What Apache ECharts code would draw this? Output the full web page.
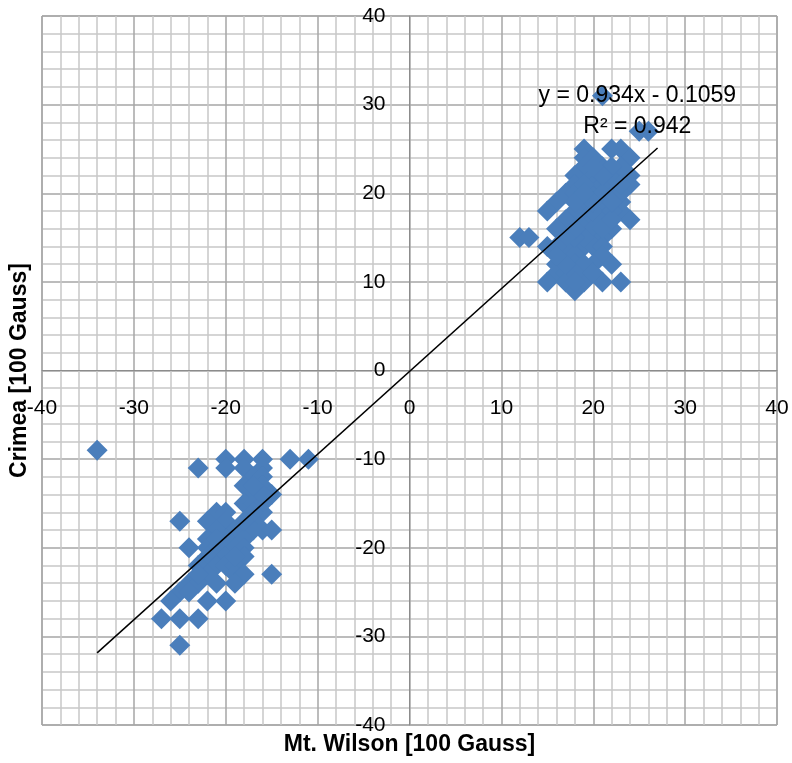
<!DOCTYPE html>
<html>
<head>
<meta charset="utf-8">
<script src="https://cdn.jsdelivr.net/npm/echarts@6/dist/echarts.min.js"></script>
<style>html,body{margin:0;padding:0;background:#fff;}#chart{width:792px;height:763px;}</style>
</head>
<body>
<div id="chart"></div>
<script>
// Mt. Wilson (x) vs Crimea (y), in units of 100 Gauss
const mtWilson = [
  // lower cluster
  -34,-20,-18,-16,-13,-11,-23,-20,-18,-16,-17,-16,-18,-16,-17,-15,-18,-17,-16,-16,
  -21,-20,-25,-22,-20,-17,-21,-19,-17,-16,-15,-22,-20,-18,-24,-22,-21,-19,-18,-20,
  -18,-22,-21,-20,-23,-19,-22,-19,-18,-15,-24,-23,-21,-25,-24,-26,-22,-20,-27,-25,
  -23,-25,-17,-16,-19,-18,-17,-23,-21,-19,
  // upper cluster
  21,25,26,19,22,23,24,19,19,21,20,18,18,17,20,22,19,21,23,23,
  22,24,16,15,18,19,20,17,21,24,16,19,20,22,21,12,13,15,19,17,
  20,21,18,21,16,18,22,19,16,17,15,17,19,21,23,18,20,18,20,21,
  22,23,20,22,21,19,18,20,19,23,21,19,20,22,18,17,16,18,20,18,
  17,22,21,24,23,22,18,19,20,16
];
const crimea = [
  // lower cluster
  -9,-10,-10,-10,-10,-10,-11,-11,-11,-11,-12,-12,-13,-13,-14,-14,-15,-15,-15,-16,
  -16,-16,-17,-17,-17,-17,-18,-18,-18,-18,-18,-19,-19,-19,-20,-20,-20,-20,-20,-21,
  -21,-21,-22,-22,-22,-22,-23,-23,-23,-23,-24,-24,-24,-25,-25,-26,-26,-26,-28,-28,
  -28,-31,-16,-14,-21,-17,-13,-23,-19,-24,
  // upper cluster
  31,27,27,25,25,25,24,24,23,23,22,22,21,20,20,20,19,19,19,18,
  21,21,19,18,18,17,17,17,17,17,16,16,16,16,15,15,15,14,14,14,
  14,14,13,13,12,12,12,11,11,11,10,10,10,10,10,9,18,20,21,21,
  22,23,24,18,16,15,15,12,12,20,20,21,19,17,16,15,14,11,11,10,
  12,23,22,22,21,19,19,20,23,13
];
const trendSlope = 0.934;
const trendIntercept = -0.1059;
const trendXRange = [-34, 27];
const xTicks = [-40, -30, -20, -10, 0, 10, 20, 30, 40];
const yTicks = [-40, -30, -20, -10, 0, 10, 20, 30, 40];
const eqText = 'y = 0.934x - 0.1059';
const r2Text = 'R² = 0.942';

const points = mtWilson.map((x, i) => [x, crimea[i]]);
const trend = trendXRange.map(x => [x, trendSlope * x + trendIntercept]);

const W = 792, H = 763;
const G = {left: 42, right: 15, top: 16, bottom: 38};
const plotW = W - G.left - G.right, plotH = H - G.top - G.bottom;
const FONT = 'Liberation Sans';
const chart = echarts.init(document.getElementById('chart'), null, {renderer: 'canvas'});
chart.setOption({
  backgroundColor: '#ffffff',
  animation: false,
  grid: Object.assign({show: true, borderColor: '#8c8c8c', borderWidth: 1,
         containLabel: false, outerBoundsMode: 'none'}, G),
  xAxis: {
    type: 'value', min: xTicks[0], max: xTicks[xTicks.length - 1], interval: 10,
    position: 'bottom', offset: -plotH / 2,
    name: 'Mt. Wilson [100 Gauss]', nameLocation: 'middle', nameGap: 363, nameMoveOverlap: false,
    nameTextStyle: {fontFamily: FONT, fontWeight: 'bold', fontSize: 23, color: '#000'},
    axisLine: {onZero: false, lineStyle: {color: '#8c8c8c', width: 1}},
    axisTick: {show: false},
    axisLabel: {fontFamily: FONT, fontSize: 21, color: '#000', margin: 27, showMinLabel: true, showMaxLabel: true, hideOverlap: false},
    splitLine: {show: true, lineStyle: {color: '#a6a6a6', width: 1.5}},
    minorTick: {show: false, splitNumber: 5},
    minorSplitLine: {show: true, lineStyle: {color: '#c8c8c8', width: 1.5}}
  },
  yAxis: {
    type: 'value', min: yTicks[0], max: yTicks[yTicks.length - 1], interval: 10,
    position: 'left', offset: -plotW / 2,
    name: 'Crimea [100 Gauss]', nameLocation: 'middle', nameGap: 378, nameRotate: 90, nameMoveOverlap: false,
    nameTextStyle: {fontFamily: FONT, fontWeight: 'bold', fontSize: 23, color: '#000'},
    axisLine: {onZero: false, lineStyle: {color: '#8c8c8c', width: 1}},
    axisTick: {show: false},
    axisLabel: {fontFamily: FONT, fontSize: 21, color: '#000', margin: 24, showMinLabel: true, showMaxLabel: true, hideOverlap: false},
    splitLine: {show: true, lineStyle: {color: '#a6a6a6', width: 1.5}},
    minorTick: {show: false, splitNumber: 5},
    minorSplitLine: {show: true, lineStyle: {color: '#c8c8c8', width: 1.5}}
  },
  series: [
    {
      type: 'scatter', data: points, symbol: 'diamond', symbolSize: 21,
      itemStyle: {color: '#4a7ebb', opacity: 1}, z: 3
    },
    {
      type: 'line', data: trend, symbol: 'none', silent: true,
      lineStyle: {color: '#000', width: 1.5}, z: 4
    }
  ]
});
// equation labels positioned in data coordinates above the trend line end
const eqPos = chart.convertToPixel({gridIndex: 0}, [24.8, 31.0]);
const r2Pos = chart.convertToPixel({gridIndex: 0}, [24.8, 27.5]);
chart.setOption({
  graphic: [
    {type: 'text', x: eqPos[0], y: eqPos[1], z: 10,
     style: {text: eqText, font: '23px ' + FONT, fill: '#000', textAlign: 'center', textVerticalAlign: 'middle'}},
    {type: 'text', x: r2Pos[0], y: r2Pos[1], z: 10,
     style: {text: r2Text, font: '23px ' + FONT, fill: '#000', textAlign: 'center', textVerticalAlign: 'middle'}}
  ]
});
</script>
</body>
</html>
